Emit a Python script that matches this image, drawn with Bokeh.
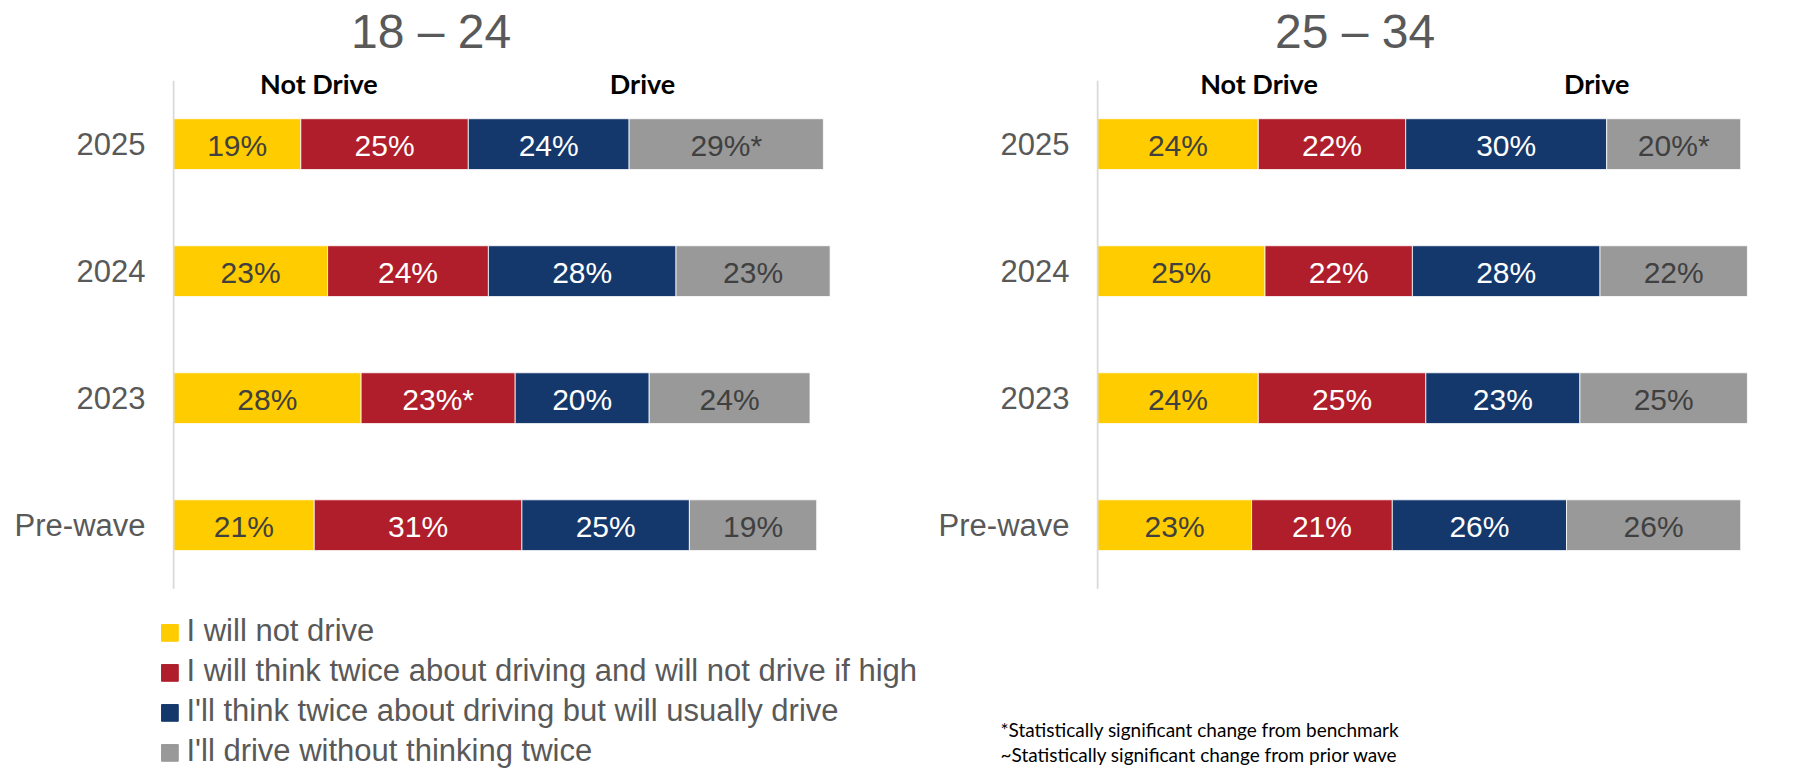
from bokeh.plotting import figure
from bokeh.models import Range1d, FixedTicker, ColumnDataSource
from bokeh.layouts import row, column
from bokeh.embed import file_html
from bokeh.resources import INLINE
from bokeh.core.properties import value

# ---------------- data ----------------
waves = ["Pre-wave", "2023", "2024", "2025"]          # bottom -> top
categories = [
    "I will not drive",
    "I will think twice about driving and will not drive if high",
    "I'll think twice about driving but will usually drive",
    "I'll drive without thinking twice",
]
colors = ["#FFCC00", "#AF1E2A", "#15386C", "#999999"]
label_colors = ["#404040", "#FFFFFF", "#FFFFFF", "#404040"]
group_headers = ["Not Drive", "Drive"]

# 18 - 24  (values in wave order: Pre-wave, 2023, 2024, 2025)
age1_title = "18 – 24"
age1_will_not_drive = [21, 28, 23, 19]
age1_think_not_drive = [31, 23, 24, 25]
age1_think_usually_drive = [25, 20, 28, 24]
age1_drive_no_thought = [19, 24, 23, 29]
age1_sig_will_not_drive = ["", "", "", ""]
age1_sig_think_not_drive = ["", "*", "", ""]
age1_sig_think_usually_drive = ["", "", "", ""]
age1_sig_drive_no_thought = ["", "", "", "*"]

# 25 - 34
age2_title = "25 – 34"
age2_will_not_drive = [23, 24, 25, 24]
age2_think_not_drive = [21, 25, 22, 22]
age2_think_usually_drive = [26, 23, 28, 30]
age2_drive_no_thought = [26, 25, 22, 20]
age2_sig_will_not_drive = ["", "", "", ""]
age2_sig_think_not_drive = ["", "", "", ""]
age2_sig_think_usually_drive = ["", "", "", ""]
age2_sig_drive_no_thought = ["", "", "", "*"]

footnotes = [
    "*Statistically significant change from benchmark",
    "~Statistically significant change from prior wave",
]

# ---------------- style / layout ----------------
FONT = "Liberation Sans"
GREY_TEXT = "#595959"
TOP_H = 600
BOT_H = 169
Y_LO, Y_HI = -0.5928, 4.1308      # vertical extent of the chart frame, in wave units
TITLE_Y = 3.883                    # vertical centre of the panel title, in wave units
HEADER_Y = 3.475                   # vertical centre of "Not Drive" / "Drive"
TITLE_X = 38.45


def make_panel(title, series, sigs, header_x, width, border_left, border_right):
    p = figure(width=width, height=TOP_H, output_backend="svg", toolbar_location=None,
               x_range=Range1d(-0.15, 100), y_range=Range1d(Y_LO, Y_HI),
               min_border_left=border_left, min_border_right=border_right,
               min_border_top=0, min_border_bottom=0)
    p.outline_line_color = None
    p.grid.visible = False
    p.xaxis.visible = False
    p.background_fill_color = None
    p.border_fill_color = None

    ypos = list(range(len(waves)))
    keys = ["s0", "s1", "s2", "s3"]
    src = ColumnDataSource(dict(y=ypos, **{k: v for k, v in zip(keys, series)}))
    p.hbar_stack(keys, y="y", height=0.4, color=colors, source=src,
                 line_color="white", line_width=0.8)

    # vertical base line of the bars
    p.segment(x0=[0], y0=[-0.5], x1=[0], y1=[len(waves) - 0.5],
              line_color="#D9D9D9", line_width=2)

    lefts = [0] * len(waves)
    for i, (vals, sg) in enumerate(zip(series, sigs)):
        centers = [l + v / 2 for l, v in zip(lefts, vals)]
        texts = [f"{v}%{s}" for v, s in zip(vals, sg)]
        lsrc = ColumnDataSource(dict(x=centers, y=ypos, t=texts))
        p.text(x="x", y="y", text="t", source=lsrc, text_align="center",
               text_baseline="middle", text_font=value(FONT), text_font_size="30px",
               text_color=label_colors[i], y_offset=1)
        lefts = [l + v for l, v in zip(lefts, vals)]

    ax = p.yaxis[0]
    ax.ticker = FixedTicker(ticks=ypos)
    ax.major_label_overrides = {i: w for i, w in zip(ypos, waves)}
    ax.axis_line_color = None
    ax.major_tick_line_color = None
    ax.minor_tick_line_color = None
    ax.major_tick_out = 0
    ax.major_tick_in = 0
    ax.major_label_standoff = 27
    ax.major_label_text_font = FONT
    ax.major_label_text_font_size = "31px"
    ax.major_label_text_color = GREY_TEXT

    p.text(x=[TITLE_X], y=[TITLE_Y], text=[title], text_align="center",
           text_baseline="middle", text_font=value(FONT), text_font_size="48px",
           text_color=GREY_TEXT)
    p.text(x=header_x, y=[HEADER_Y] * len(header_x), text=group_headers,
           text_align="center", text_baseline="middle", text_font=value("Lato"),
           text_font_style="bold", text_font_size="27px", text_color="#000000")
    return p


p1 = make_panel(age1_title,
                [age1_will_not_drive, age1_think_not_drive, age1_think_usually_drive, age1_drive_no_thought],
                [age1_sig_will_not_drive, age1_sig_think_not_drive, age1_sig_think_usually_drive, age1_sig_drive_no_thought],
                [21.7, 70.0], 900, 172, 57)
p2 = make_panel(age2_title,
                [age2_will_not_drive, age2_think_not_drive, age2_think_usually_drive, age2_drive_no_thought],
                [age2_sig_will_not_drive, age2_sig_think_not_drive, age2_sig_think_usually_drive, age2_sig_drive_no_thought],
                [24.1, 74.5], 896, 196, 29)


def blank(width):
    f = figure(width=width, height=BOT_H, output_backend="svg", toolbar_location=None,
               x_range=Range1d(0, width), y_range=Range1d(BOT_H, 0),
               min_border=0)
    f.axis.visible = False
    f.grid.visible = False
    f.outline_line_color = None
    f.background_fill_color = None
    f.border_fill_color = None
    return f


LEG_W = 970
# legend (pixel-based canvas)
leg = blank(LEG_W)
sq_mid = [32.4 + 40.0 * i for i in range(len(categories))]
leg.rect(x=[169.4] * len(categories), y=sq_mid, width=16.7, height=16.7, color=colors)
leg.text(x=[186] * len(categories), y=[m - 2 for m in sq_mid], text=categories,
         text_align="left", text_baseline="middle", text_font=value(FONT),
         text_font_size="31px", text_color=GREY_TEXT)

# footnotes
foot = blank(1796 - LEG_W)
foot.text(x=[1000 - LEG_W] * 2, y=[129, 154], text=footnotes, text_align="left",
          text_baseline="middle", text_font=value("Lato"), text_font_size="19px",
          text_color="#000000")

layout = column(row(p1, p2), row(leg, foot))
open("out.html", "w").write(file_html(layout, INLINE))
